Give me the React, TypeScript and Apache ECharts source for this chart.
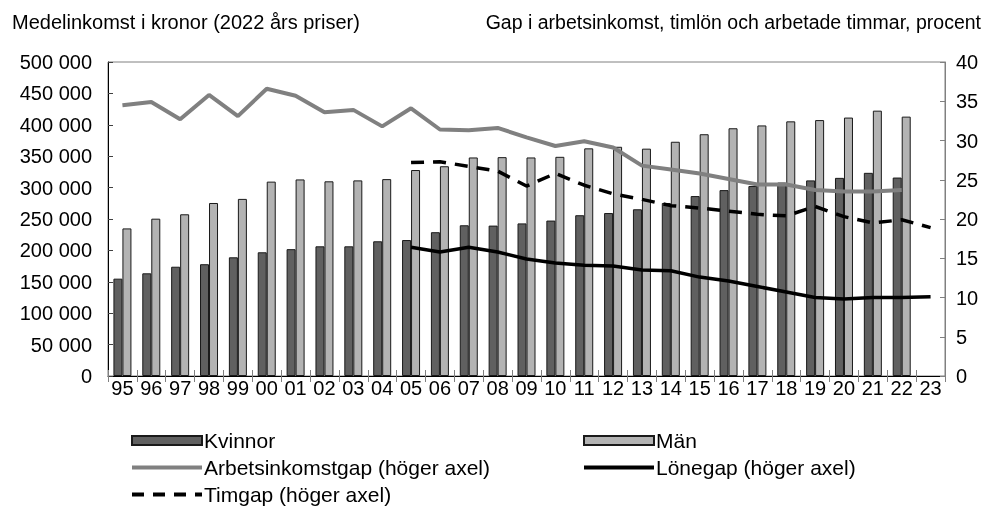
import React, { useEffect, useRef } from "react";
import * as echarts from "echarts";

const years = ["95","96","97","98","99","00","01","02","03","04","05","06","07","08","09","10","11","12","13","14","15","16","17","18","19","20","21","22","23"];

const kvinnor = [155000,163500,174000,178000,189000,197000,202000,206500,206500,214500,216500,229000,240000,239500,243000,247500,256000,259500,265500,275500,286500,296000,302500,308000,311500,315500,323500,316000];
const man = [235000,250500,257500,275500,282000,309500,313000,310000,311500,313500,328000,334000,348000,348500,348000,349000,362500,365000,362000,373000,385000,394500,399000,405500,407500,411500,422500,413000];
const arbetsinkomstgap = [34.5,34.9,32.7,35.8,33.1,36.6,35.7,33.6,33.9,31.8,34.1,31.4,31.3,31.6,30.4,29.3,29.9,29.1,26.8,26.3,25.8,25.1,24.4,24.4,23.7,23.5,23.5,23.7];
const timgapYears = ["05","06","07","08","09","10","11","12","13","14","15","16","17","18","19","20","21","22","23"];
const timgap = [27.2,27.3,26.7,26.1,24.2,25.8,24.3,23.2,22.5,21.7,21.4,21.0,20.6,20.4,21.6,20.3,19.5,19.9,18.9];
const lonegap = [16.4,15.8,16.4,15.8,14.9,14.4,14.1,14.0,13.5,13.4,12.6,12.1,11.4,10.7,10.0,9.8,10.0,10.0,10.1];

const leftTitle = "Medelinkomst i kronor (2022 års priser)";
const rightTitle = "Gap i arbetsinkomst, timlön och arbetade timmar, procent";

const FONT = "'Liberation Sans', Arial, sans-serif";

function alignTo(labels: string[], startLabels: string[], values: number[]) {
  return labels.map((y) => {
    const i = startLabels.indexOf(y);
    return i >= 0 ? values[i] : null;
  });
}

export default function App() {
  const ref = useRef<HTMLDivElement>(null);
  useEffect(() => {
    if (!ref.current) return;
    const chart = echarts.init(ref.current, undefined, { renderer: "svg" });
    const fmt = (v: number) => String(v).replace(/\B(?=(\d{3})+(?!\d))/g, " ");
    const textStyle = { fontFamily: FONT, fontSize: 20, color: "#000" };
    const hideSym = { opacity: 0 };
    const legendBase = {
      orient: "vertical", itemWidth: 70, itemHeight: 9, itemGap: 6, padding: 0,
      textStyle: { ...textStyle, fontSize: 21, lineHeight: 21, padding: [0, 0, 0, -3] },
    };
    chart.setOption({
      animation: false,
      textStyle: { fontFamily: FONT },
      title: [
        { text: leftTitle, left: 7, top: 7, textStyle: { ...textStyle, fontWeight: "normal" } },
        { text: rightTitle, right: 6, top: 7, textStyle: { ...textStyle, fontSize: 19.5, fontWeight: "normal" } },
      ],
      grid: {
        left: 108, right: 47, top: 62, bottom: 137,
        show: true, borderColor: "#808080", borderWidth: 1, backgroundColor: "transparent",
      },
      legend: [
        {
          ...legendBase, left: 130, top: 430,
          data: [
            { name: "Kvinnor", icon: "rect" },
            { name: "Arbetsinkomstgap (höger axel)", itemStyle: hideSym, lineStyle: { width: 4 } },
            { name: "Timgap (höger axel)", itemStyle: hideSym, lineStyle: { width: 4, type: [12, 9] } },
          ],
        },
        {
          ...legendBase, left: 582, top: 430,
          data: [
            { name: "Män", icon: "rect" },
            { name: "Lönegap (höger axel)", itemStyle: hideSym, lineStyle: { width: 4 } },
          ],
        },
      ],
      xAxis: [
        {
          type: "category", data: years, boundaryGap: true,
          axisLine: { lineStyle: { color: "#000", width: 1 } },
          axisTick: { show: true, inside: false, length: 6, interval: 0, lineStyle: { color: "#808080" } },
          axisLabel: { ...textStyle, margin: 2, interval: 0 },
        },
        {
          type: "category", data: years, boundaryGap: true, position: "bottom",
          axisLine: { show: false },
          axisTick: { show: true, inside: true, length: 6, interval: 0, lineStyle: { color: "#808080" } },
          axisLabel: { show: false },
        },
      ],
      yAxis: [
        {
          type: "value", min: 0, max: 500000, interval: 50000,
          axisLine: { show: true, lineStyle: { color: "#000" } },
          axisTick: { show: true, inside: true, length: 5, lineStyle: { color: "#404040" } },
          axisLabel: { ...textStyle, margin: 16, formatter: fmt },
          splitLine: { show: false },
        },
        {
          type: "value", min: 0, max: 40, interval: 5, position: "right",
          axisLine: { show: true, lineStyle: { color: "#808080" } },
          axisTick: { show: true, inside: true, length: 5, lineStyle: { color: "#808080" } },
          axisLabel: { ...textStyle, margin: 11 },
          splitLine: { show: false },
        },
      ],
      series: [
        {
          name: "Kvinnor", type: "bar", data: kvinnor, barWidth: 9, barGap: "0%",
          itemStyle: { color: "#606060", borderColor: "#1a1a1a", borderWidth: 1 },
        },
        {
          name: "Män", type: "bar", data: man, barWidth: 9, barGap: "0%",
          itemStyle: { color: "#b3b3b3", borderColor: "#1a1a1a", borderWidth: 1 },
        },
        {
          name: "Arbetsinkomstgap (höger axel)", type: "line", yAxisIndex: 1,
          data: arbetsinkomstgap, symbol: "none", showSymbol: false,
          lineStyle: { color: "#808080", width: 4 }, itemStyle: { color: "#808080" },
        },
        {
          name: "Lönegap (höger axel)", type: "line", yAxisIndex: 1,
          data: alignTo(years, timgapYears, lonegap), symbol: "none", showSymbol: false,
          lineStyle: { color: "#000", width: 3.5 }, itemStyle: { color: "#000" },
        },
        {
          name: "Timgap (höger axel)", type: "line", yAxisIndex: 1,
          data: alignTo(years, timgapYears, timgap), symbol: "none", showSymbol: false,
          lineStyle: { color: "#000", width: 3.5, type: [13, 9] }, itemStyle: { color: "#000" },
        },
      ],
    });
    return () => chart.dispose();
  }, []);
  return <div ref={ref} style={{ position: "fixed", left: 0, top: 0, width: 992, height: 513 }} />;
}
